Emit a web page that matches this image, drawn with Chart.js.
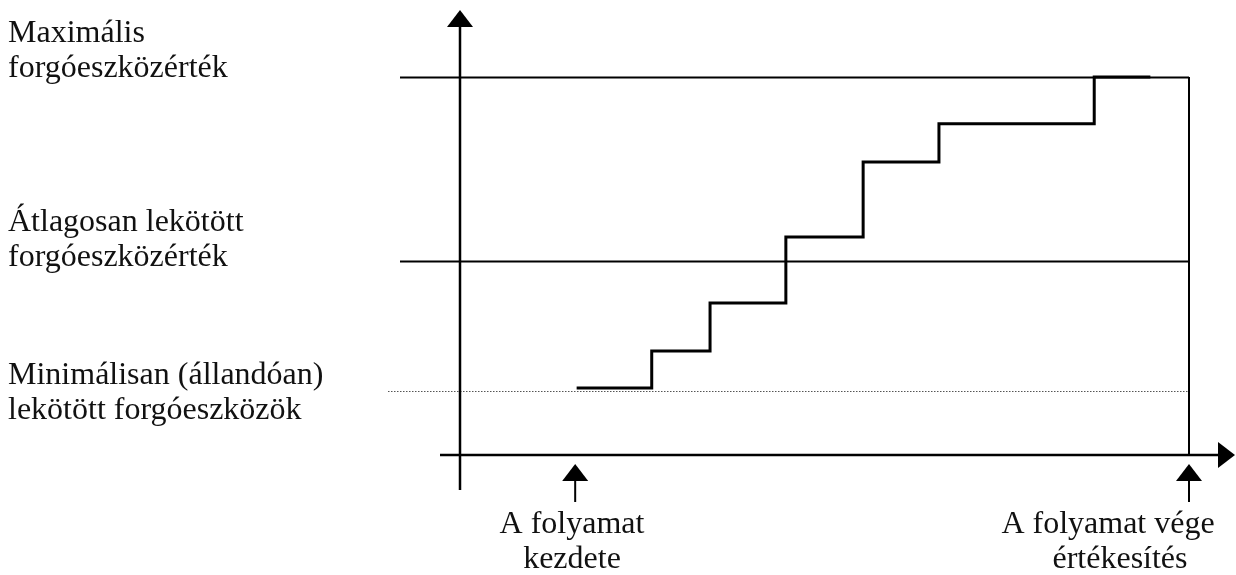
<!DOCTYPE html>
<html lang="hu">
<head>
<meta charset="utf-8">
<title>Forgóeszköz-lekötés</title>
<script src="https://cdn.jsdelivr.net/npm/chart.js@4/dist/chart.umd.min.js"></script>
<style>
    html, body { margin: 0; padding: 0; background: #fff; }
    #wrap { width: 1236px; height: 575px; position: relative; }
</style>
</head>
<body>
<div id="wrap"><canvas id="chart"></canvas></div>
<script>
        // Lépcsős görbe (idő: 0 = kezdet tengely, 100 = folyamat vége; érték: 0..100 = maximum)
        const stepTime = [16, 26.3, 34.3, 44.7, 55.3, 65.7, 87.0, 94.7];
        const stepValue = [17.7, 27.5, 40.2, 57.7, 77.5, 87.6, 100, 100];

        // Vízszintes szintek
        const levelValues = [100, 51.3, 17.5];
        const levelLabels = [
            ['Maximális', 'forgóeszközérték'],
            ['Átlagosan lekötött', 'forgóeszközérték'],
            ['Minimálisan (állandóan)', 'lekötött forgóeszközök']
        ];

        // Időpontok a vízszintes tengelyen
        const markTimes = [15.8, 100];
        const markLabels = [
            ['A folyamat', 'kezdete'],
            ['A folyamat vége', 'értékesítés']
        ];

        function arrowHead(ctx, tipX, tipY, dir) {
            ctx.beginPath();
            if (dir === 'up') {
                ctx.moveTo(tipX, tipY);
                ctx.lineTo(tipX - 13, tipY + 17);
                ctx.lineTo(tipX + 13, tipY + 17);
            } else {
                ctx.moveTo(tipX, tipY);
                ctx.lineTo(tipX - 17, tipY - 13);
                ctx.lineTo(tipX - 17, tipY + 13);
            }
            ctx.closePath();
            ctx.fill();
        }

        const diagramPlugin = {
            id: 'diagram',
            beforeDatasetsDraw(chart) {
                const ctx = chart.ctx;
                const x = chart.scales.x;
                const y = chart.scales.y;
                const x0 = x.getPixelForValue(0);
                const xEnd = x.getPixelForValue(100);
                const y0 = y.getPixelForValue(0);
                ctx.save();
                ctx.strokeStyle = '#000';
                ctx.fillStyle = '#000';

                // szintvonalak
                levelValues.forEach((v, i) => {
                    const py = Math.round(y.getPixelForValue(v)) + 0.5;
                    ctx.beginPath();
                    if (i === levelValues.length - 1) {
                        ctx.lineWidth = 1;
                        ctx.strokeStyle = '#555';
                        ctx.setLineDash([1.5, 1.5]);
                        ctx.moveTo(388, py + 2);
                        ctx.lineTo(xEnd, py + 2);
                    } else {
                        ctx.lineWidth = 2;
                        ctx.strokeStyle = '#000';
                        ctx.setLineDash([]);
                        ctx.moveTo(400, py);
                        ctx.lineTo(xEnd, py);
                    }
                    ctx.stroke();
                });
                ctx.setLineDash([]);
                ctx.strokeStyle = '#000';

                // tengelyek
                ctx.lineWidth = 2.5;
                ctx.beginPath();
                ctx.moveTo(x0, 490);
                ctx.lineTo(x0, 24);
                ctx.moveTo(440, y0);
                ctx.lineTo(1220, y0);
                ctx.stroke();
                arrowHead(ctx, x0, 10, 'up');
                arrowHead(ctx, 1235, y0, 'right');

                // folyamat vége függőleges
                ctx.lineWidth = 2;
                ctx.beginPath();
                ctx.moveTo(xEnd, y.getPixelForValue(100));
                ctx.lineTo(xEnd, y0);
                ctx.stroke();

                // jelölő nyilak
                markTimes.forEach(t => {
                    const px = x.getPixelForValue(t);
                    ctx.lineWidth = 2;
                    ctx.beginPath();
                    ctx.moveTo(px, 502);
                    ctx.lineTo(px, 476);
                    ctx.stroke();
                    arrowHead(ctx, px, 464, 'up');
                });
                ctx.restore();
            },
            afterDraw(chart) {
                const ctx = chart.ctx;
                ctx.save();
                ctx.fillStyle = '#111';
                ctx.font = '32px "Liberation Serif", "Times New Roman", serif';
                ctx.textBaseline = 'alphabetic';

                const labelBase = [42, 231, 384];
                ctx.textAlign = 'left';
                levelLabels.forEach((lines, i) => {
                    lines.forEach((t, j) => ctx.fillText(t, 8, labelBase[i] + j * 35));
                });

                ctx.textAlign = 'center';
                const markCenter = [572, 1108];
                markLabels.forEach((lines, i) => {
                    lines.forEach((t, j) => ctx.fillText(t, markCenter[i] + (j === 1 && i === 1 ? 12 : 0), 533 + j * 35));
                });
                ctx.restore();
            }
        };

        new Chart(document.getElementById('chart'), {
            type: 'line',
            data: {
                datasets: [{
                    data: stepTime.map((t, i) => ({ x: t, y: stepValue[i] })),
                    stepped: 'before',
                    borderColor: '#000',
                    borderWidth: 3,
                    pointRadius: 0,
                    fill: false,
                    clip: false
                }]
            },
            options: {
                responsive: true,
                maintainAspectRatio: false,
                animation: false,
                layout: { padding: { left: 460, right: 47, top: 77, bottom: 120 } },
                scales: {
                    x: { type: 'linear', min: 0, max: 100, display: false },
                    y: { type: 'linear', min: 0, max: 100, display: false }
                },
                plugins: {
                    legend: { display: false },
                    tooltip: { enabled: false }
                }
            },
            plugins: [diagramPlugin]
        });
</script>
</body>
</html>
